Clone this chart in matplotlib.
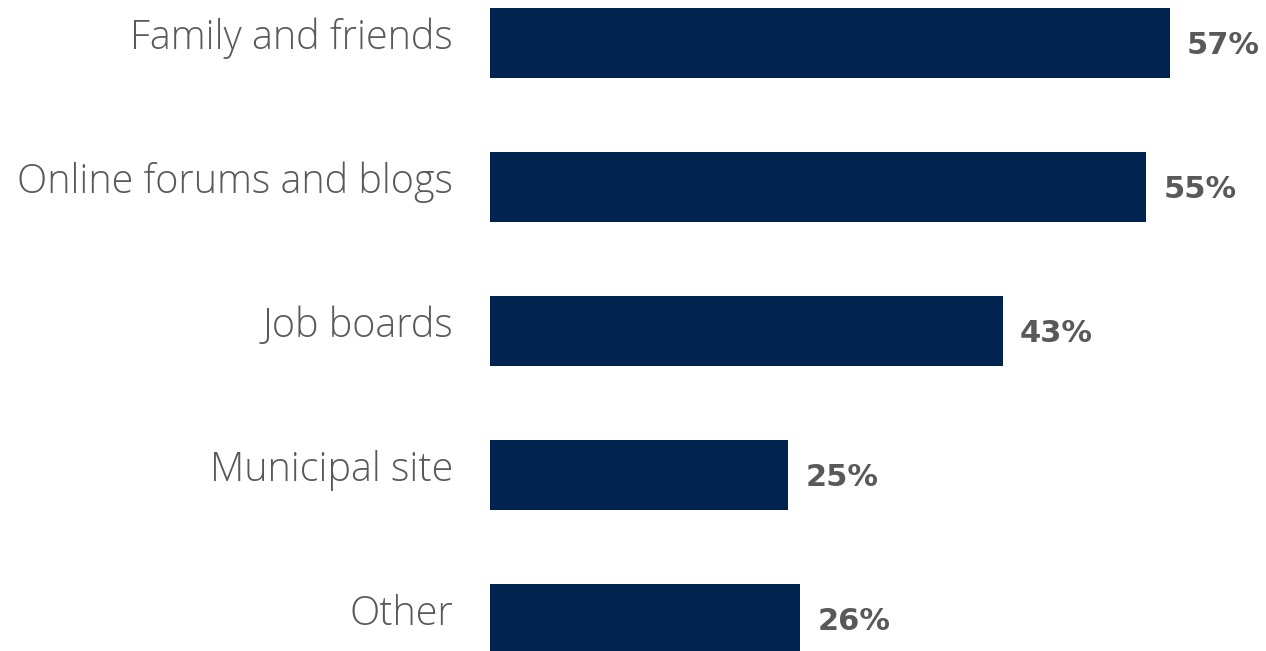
import matplotlib.pyplot as plt

categories = ['Family and friends', 'Online forums and blogs', 'Job boards', 'Municipal site', 'Other']
values = [57, 55, 43, 25, 26]

bar_color = '#00234F'
text_color = '#595959'

fig = plt.figure(figsize=(12.66, 6.51), dpi=100)
ax = fig.add_axes([490 / 1266, 0, 1 - 490 / 1266, 1])

ypos = list(range(len(categories)))
ax.barh(ypos, values, height=70 / 144, color=bar_color)

# pixel -> data mapping: bar centres 144 px apart, first at 43 px from top
ax.set_ylim((651 - 43) / 144, -43 / 144)
ax.set_xlim(0, (1266 - 490) / 11.93)

for y, v, c in zip(ypos, values, categories):
    ax.text(v + 17 / 11.93, y + 0.02, f'{v}%', va='center', ha='left',
            fontsize=22, fontweight='bold', color=text_color, family='DejaVu Sans')
    ax.text(-37 / 11.93, y - 0.03, c, va='center', ha='right',
            fontsize=28.5, fontweight='light', color=text_color, family='Open Sans')

ax.axis('off')
fig.savefig('out.png', dpi=100)
